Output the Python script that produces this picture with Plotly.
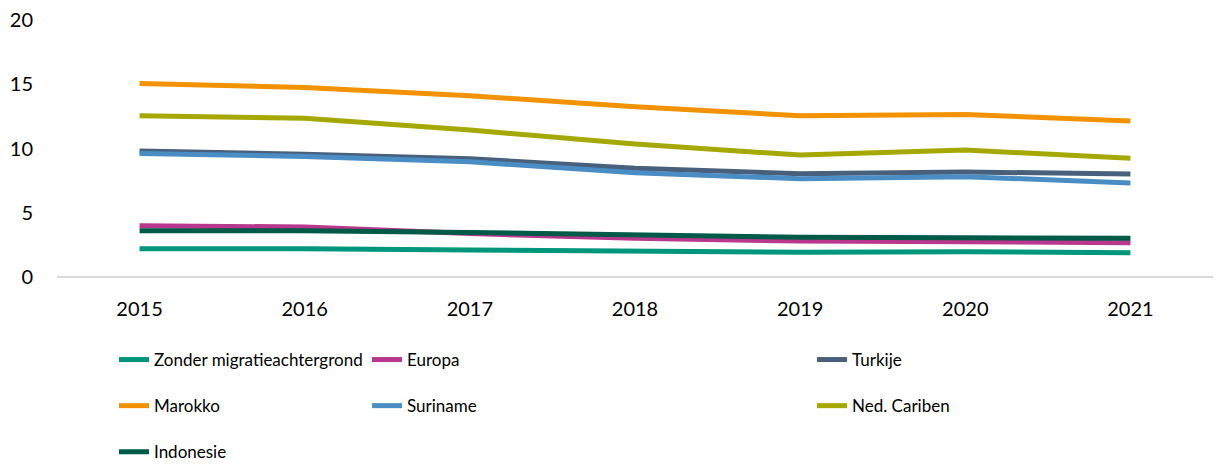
import plotly.graph_objects as go

years = ["2015", "2016", "2017", "2018", "2019", "2020", "2021"]

zonder_migratie = [2.2, 2.2, 2.1, 2.0, 1.92, 1.97, 1.89]
europa = [3.99, 3.89, 3.38, 3.01, 2.8, 2.75, 2.67]
turkije = [9.8, 9.55, 9.2, 8.46, 8.04, 8.17, 8.02]
marokko = [15.05, 14.75, 14.1, 13.25, 12.55, 12.65, 12.14]
suriname = [9.62, 9.38, 8.97, 8.12, 7.65, 7.81, 7.31]
ned_cariben = [12.55, 12.35, 11.44, 10.35, 9.49, 9.88, 9.24]
indonesie = [3.6, 3.6, 3.47, 3.27, 3.09, 3.06, 3.01]

series = [
    ("Zonder migratieachtergrond", zonder_migratie, "#00967b", "legend"),
    ("Europa", europa, "#b9378c", "legend2"),
    ("Turkije", turkije, "#48607c", "legend3"),
    ("Marokko", marokko, "#f39200", "legend"),
    ("Suriname", suriname, "#4a8cc4", "legend2"),
    ("Ned. Cariben", ned_cariben, "#a4a800", "legend3"),
    ("Indonesie", indonesie, "#005a48", "legend"),
]

FONT = "Lato"

fig = go.Figure()
for i, (name, vals, color, leg) in enumerate(series):
    fig.add_trace(go.Scatter(
        x=years, y=vals, name=name, mode="lines",
        line=dict(color=color, width=5),
        legend=leg, legendgroup=f"g{i}",
    ))

legend_common = dict(
    orientation="v", xref="container", yref="container",
    xanchor="left", yanchor="top", tracegroupgap=21,
    font=dict(family=FONT, size=17, color="#000000"),
    bgcolor="rgba(0,0,0,0)", itemwidth=30,
)

fig.update_layout(
    width=1221, height=464,
    margin=dict(l=57, r=8, t=20, b=187, autoexpand=False),
    paper_bgcolor="white", plot_bgcolor="white",
    font=dict(family=FONT, size=18, color="#000000"),
    showlegend=True,
    legend=dict(x=114 / 1221, y=1 - 342 / 464, **legend_common),
    legend2=dict(x=367 / 1221, y=1 - 342 / 464, **legend_common),
    legend3=dict(x=812 / 1221, y=1 - 342 / 464, **legend_common),
    xaxis=dict(
        type="category", range=[-0.5, 6.5],
        showgrid=False, zeroline=False,
        showline=False, ticks="", tickangle=0,
        ticklabelstandoff=18,
        tickfont=dict(family=FONT, size=20, color="#000000"),
    ),
    yaxis=dict(
        range=[0, 20], tickvals=[0, 5, 10, 15, 20],
        showgrid=False, zeroline=True, zerolinecolor="#d9d9d9", zerolinewidth=2,
        showline=False, ticks="",
        ticklabelstandoff=23,
        tickfont=dict(family=FONT, size=20, color="#000000"),
    ),
)

fig.write_html("out.html")
